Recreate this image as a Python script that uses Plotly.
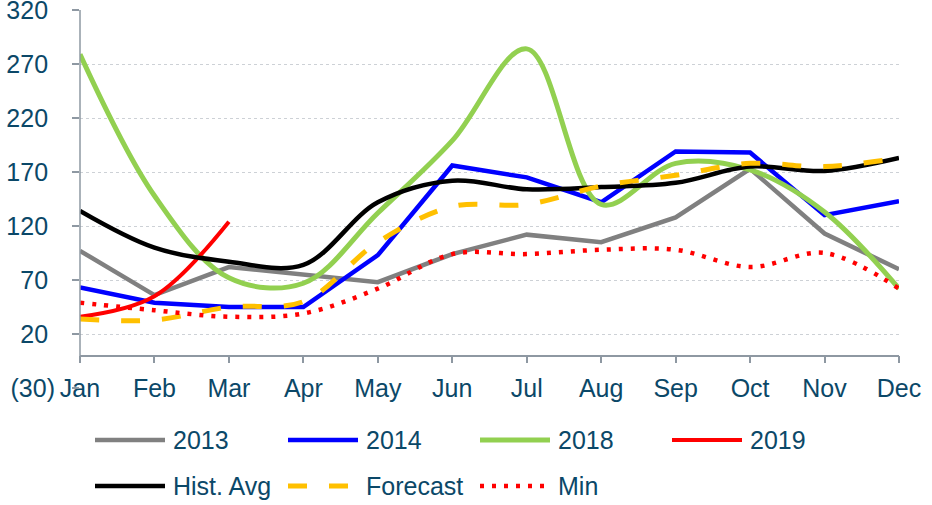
import plotly.graph_objects as go

months = ["Jan", "Feb", "Mar", "Apr", "May", "Jun", "Jul", "Aug", "Sep", "Oct", "Nov", "Dec"]

s2013 = [97, 56, 82, 75, 68, 94, 112, 105, 128, 173, 113, 80]
s2014 = [63, 49, 45, 45, 93, 176, 165, 142, 189, 188, 130, 143]
s2018 = [279, 148, 72, 67, 132, 199, 284, 140, 178, 172, 133, 62]
s2019 = [36, 55, 124]
hist_avg = [134, 100, 87, 84, 142, 162, 154, 156, 160, 175, 171, 183]
forecast = [34, 33, 45, 50, 105, 138, 140, 157, 167, 178, 175, 183]
minimum = [49, 42, 36, 39, 62, 94, 94, 98, 98, 82, 95, 62]

y_ticks = [-30, 20, 70, 120, 170, 220, 270, 320]
y_ticktext = ["(30)"] + [f"{v}\u00a0" for v in y_ticks[1:]]

series = [
    ("2013", s2013, "#808080", "solid", "linear", 4.5),
    ("2014", s2014, "#0000FF", "solid", "linear", 4.5),
    ("2018", s2018, "#92D050", "solid", "spline", 5),
    ("2019", s2019, "#FF0000", "solid", "spline", 4),
    ("Hist. Avg", hist_avg, "#000000", "solid", "spline", 4.5),
    ("Forecast", forecast, "#FFC000", "19px,22px", "spline", 5),
    ("Min", minimum, "#FF0000", "4px,8px", "spline", 4.5),
]

TEXT = "#0B4868"
AXIS = "#8E98A2"
FONT = "Arial, Liberation Sans, sans-serif"

fig = go.Figure()
for name, vals, color, dash, shape, width in series:
    fig.add_trace(go.Scatter(
        x=months[:len(vals)], y=vals, name=name, mode="lines",
        line=dict(color=color, dash=dash, shape=shape, width=width),
        showlegend=False,
    ))

# y axis line (stops a little below the x axis)
fig.add_shape(type="line", xref="paper", yref="y", x0=0, x1=0, y0=-6, y1=320,
              line=dict(color=AXIS, width=1.5))

# custom legend (long swatches like the original)
W_PX, H_PX, L, T = 819, 378, 80, 10
def px2paper(px, py):
    return (px - L) / W_PX, (T + H_PX - py) / H_PX

col_x = [95, 288, 480, 672]
row_y = [440, 486]
for i, (name, vals, color, dash, shape, width) in enumerate(series):
    r, c = divmod(i, 4)
    x0, y0 = px2paper(col_x[c], row_y[r])
    x1, _ = px2paper(col_x[c] + 70, row_y[r])
    xt, _ = px2paper(col_x[c] + 76, row_y[r])
    fig.add_shape(type="line", xref="paper", yref="paper", x0=x0, x1=x1, y0=y0, y1=y0,
                  line=dict(color=color, dash=dash, width=width))
    fig.add_annotation(xref="paper", yref="paper", x=xt, y=y0, text=name, showarrow=False,
                       xanchor="left", yanchor="middle", font=dict(size=25, color=TEXT, family=FONT))

fig.update_layout(
    width=932, height=505,
    margin=dict(l=L, r=932 - L - W_PX, t=T, b=505 - T - H_PX, autoexpand=False),
    plot_bgcolor="white", paper_bgcolor="white",
    font=dict(family=FONT, size=25, color=TEXT),
    showlegend=False,
    xaxis=dict(
        type="category", range=[0, 11], anchor="free", position=30 / 350,
        showline=True, linecolor=AXIS, linewidth=1.5, automargin=False,
        ticks="outside", ticklen=7, tickcolor=AXIS, tickwidth=1.5,
        showgrid=False, ticklabelstandoff=4, ticklabeloverflow="allow",
        tickfont=dict(size=25, color=TEXT, family=FONT),
    ),
    yaxis=dict(
        range=[-30, 320], tickvals=y_ticks, ticktext=y_ticktext, automargin=False,
        showgrid=True, gridcolor="#CDD1D6", griddash="dot", gridwidth=1.2,
        zeroline=False, showline=False, ticklabeloverflow="allow",
        ticks="outside", ticklen=7, tickcolor=AXIS, tickwidth=1.5,
        ticklabelstandoff=12,
        tickfont=dict(size=25, color=TEXT, family=FONT),
    ),
)

fig.write_html("out.html", config={"displayModeBar": False},
               post_script="document.body.style.margin='0';document.body.style.overflow='hidden';")
